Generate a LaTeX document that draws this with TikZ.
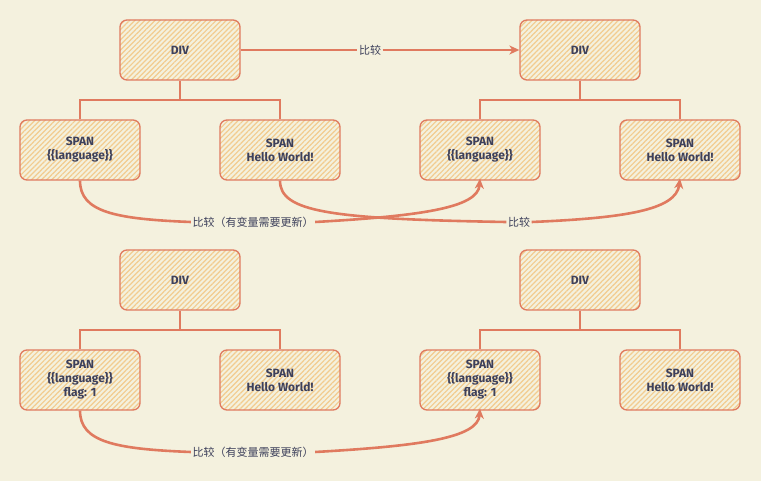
\documentclass[tikz,border=0pt]{standalone}
\usepackage{fontspec}
\setmainfont{Fira Sans}
\newfontfamily\cjk{Noto Sans CJK SC}
\usetikzlibrary{patterns.meta,arrows.meta}
\definecolor{bg}{HTML}{F4F1DE}
\definecolor{strk}{HTML}{E07A5F}
\definecolor{hatch}{HTML}{F2CC8F}
\definecolor{txt}{HTML}{3D405B}
\tikzset{
  box/.style={draw=strk, line width=1.3pt, rounded corners=7pt,
    minimum width=120pt, minimum height=60pt, inner sep=0pt, align=center,
    text=txt, font=\fontsize{12}{14}\selectfont\bfseries,
    preaction={fill=bg},
    pattern={Lines[angle=45,distance=3.6pt,line width=1.2pt]}, pattern color=hatch},
  tree/.style={draw=strk, line width=1.8pt},
  cmp/.style={draw=strk, line width=2.6pt, -{Stealth[length=10pt,width=9pt,inset=3pt]}},
  cmpl/.style={draw=strk, line width=2.6pt},
  lab/.style={fill=bg, text=txt, inner sep=1.5pt, font=\cjk\fontsize{11}{13}\selectfont}
}
\begin{document}
\begin{tikzpicture}[x=1pt,y=-1pt]
\fill[bg] (0,0) rectangle (761,481);
\useasboundingbox (0,0) rectangle (761,481);
% top row
\node[box] (d1) at (180,50) {DIV};
\node[box] (d2) at (580,50) {DIV};
\node[box] (a1) at (80,150) {SPAN\\\{\{language\}\}};
\node[box] (b1) at (280,150) {SPAN\\Hello World!};
\node[box] (c1) at (480,150) {SPAN\\\{\{language\}\}};
\node[box] (e1) at (680,150) {SPAN\\Hello World!};
\draw[tree] (d1.south) -- (180,100) coordinate (j1);
\draw[tree] (a1.north) |- (j1) -| (b1.north);
\draw[tree] (d2.south) -- (580,100) coordinate (j2);
\draw[tree] (c1.north) |- (j2) -| (e1.north);
\node[lab] (l0) at (370,50) {比较};
\draw[cmpl] (d1.east) -- (l0.west);
\draw[cmp] (l0.east) -- (d2.west);
\node[lab] (l1) at (253,222) {比较（有变量需要更新）};
\node[lab] (l2) at (519,222) {比较};
\draw[cmpl] (a1.south) .. controls (80,212) and (115,219) .. (l1.west);
\draw[cmp] (l1.east) .. controls (420,216) and (478,208) .. ([yshift=2pt]c1.south);
\draw[cmpl] (b1.south) .. controls (280,212) and (330,219) .. (l2.west);
\draw[cmp] (l2.east) .. controls (625,218) and (676,210) .. ([yshift=2pt]e1.south);
\node[lab] at (l1) {比较（有变量需要更新）};
% bottom row
\node[box] (d3) at (180,280) {DIV};
\node[box] (d4) at (580,280) {DIV};
\node[box] (a3) at (80,380) {SPAN\\\{\{language\}\}\\flag: 1};
\node[box] (b3) at (280,380) {SPAN\\Hello World!};
\node[box] (c3) at (480,380) {SPAN\\\{\{language\}\}\\flag: 1};
\node[box] (e3) at (680,380) {SPAN\\Hello World!};
\draw[tree] (d3.south) -- (180,330) coordinate (j3);
\draw[tree] (a3.north) |- (j3) -| (b3.north);
\draw[tree] (d4.south) -- (580,330) coordinate (j4);
\draw[tree] (c3.north) |- (j4) -| (e3.north);
\node[lab] (l3) at (253,452) {比较（有变量需要更新）};
\draw[cmpl] (a3.south) .. controls (80,442) and (115,449) .. (l3.west);
\draw[cmp] (l3.east) .. controls (420,446) and (478,438) .. ([yshift=2pt]c3.south);
\end{tikzpicture}
\end{document}
